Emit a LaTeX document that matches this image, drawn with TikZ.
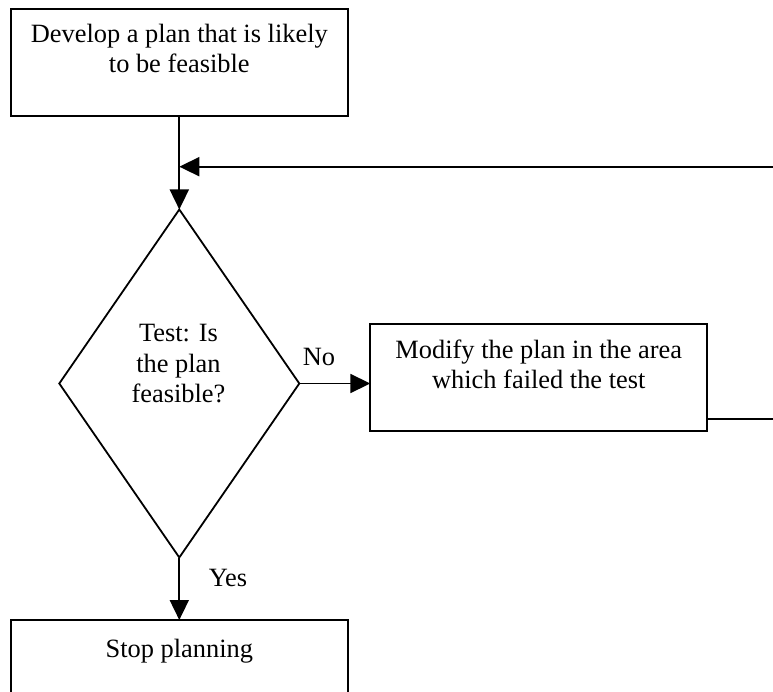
\documentclass[tikz,border=0pt]{standalone}
\usepackage{fontspec}
\setmainfont{Liberation Serif}
\usetikzlibrary{shapes.geometric,arrows.meta}

\begin{document}
\begin{tikzpicture}[x=1pt,y=-1pt,
  every node/.style={font=\fontsize{26.4}{30.4}\selectfont, inner sep=0pt, outer sep=0pt},
  box/.style={draw, line width=1.8pt, rectangle, minimum width=337pt, minimum height=107pt},
  decision/.style={draw, line width=1.8pt, diamond, minimum width=240pt, minimum height=348pt},
  txt/.style={align=center, anchor=north},
  flow/.style={line width=1.8pt, -{Triangle[length=20pt,width=19pt]}},
  plain/.style={line width=1.8pt}
]
\useasboundingbox (0,0) rectangle (773,692);
\clip (0,0) rectangle (773,692);

% boxes and decision
\node[box] (develop) at (179.3,62.3) {};
\node[txt] at (179.3,24) {Develop a plan that is likely\\to be feasible};

\node[decision] (test) at (179.3,383.5) {};
\node[txt] at (178.5,324.5) {Test: Is\\the plan\\feasible?};

\node[box] (modify) at (538.8,377.7) {};
\node[txt] at (538.8,339.7) {Modify the plan in the area\\which failed the test};

\node[box] (stop) at (179.3,673.5) {};
\node[anchor=base] at (179.3,657) {Stop planning};

% helper points for the loop back
\coordinate (join) at (179.3,166.7);
\coordinate (edgeTop) at (773,166.7);
\coordinate (edgeLow) at (773,418.7);

% connectors
\draw[plain] (develop.south) -- (join);
\draw[flow] (join) -- (test.north);
\draw[flow] (edgeTop) -- (join);
\draw[flow] (test.east) -- (test.east -| modify.west);
\draw[plain] (modify.east |- edgeLow) -- (edgeLow);
\draw[flow] (test.south) -- (stop.north);

% branch labels
\node[anchor=base] at (319,365) {No};
\node[anchor=base] at (228,586.7) {Yes};
\end{tikzpicture}
\end{document}
